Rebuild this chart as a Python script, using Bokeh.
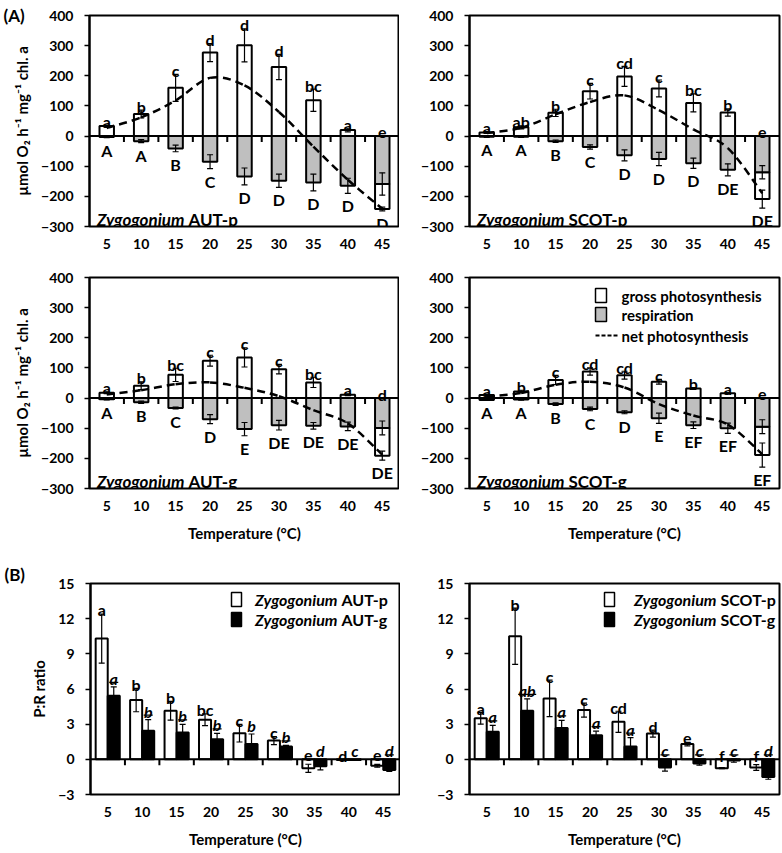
from bokeh.plotting import figure
from bokeh.models import (Range1d, FixedTicker, Span, Whisker, TeeHead, ColumnDataSource,
                          Label, BoxAnnotation, Arrow)
from bokeh.layouts import column, row
from bokeh.core.properties import value
from bokeh.embed import file_html
from bokeh.resources import INLINE

FONT = "Lato"
GRAY = "#bfbfbf"

# ---------------- data ----------------
temps = [5, 10, 15, 20, 25, 30, 35, 40, 45]

# (A) gross photosynthesis / respiration / net photosynthesis
autp_gross = [33, 73, 160, 277, 301, 229, 119, 20, -83]
autp_gross_err = [3, 13, 45, 30, 55, 42, 37, 6, 6]
autp_resp = [-3, -17, -41, -85, -134, -148, -154, -165, -159]
autp_resp_err = [2, 5, 11, 23, 28, 22, 28, 25, 37]
autp_net = [27, 62, 118, 193, 168, 80, -35, -145, -241]
autp_gross_let = ["a", "b", "c", "d", "d", "d", "bc", "a", "e"]
autp_resp_let = ["A", "A", "B", "C", "D", "D", "D", "D", "D"]

scotp_gross = [12, 29, 77, 149, 198, 158, 110, 78, -89]
scotp_gross_err = [3, 5, 12, 26, 33, 28, 30, 12, 30]
scotp_resp = [-2, -2, -17, -36, -64, -76, -90, -112, -120]
scotp_resp_err = [2, 2, 4, 7, 18, 22, 17, 20, 22]
scotp_net = [10, 27, 72, 113, 135, 86, 22, -40, -190]
scotp_gross_let = ["a", "ab", "b", "c", "cd", "c", "bc", "b", "e"]
scotp_resp_let = ["A", "A", "B", "C", "D", "D", "D", "DE", "DE"]

autg_gross = [18, 41, 77, 124, 135, 96, 52, 11, -92]
autg_gross_err = [3, 13, 22, 18, 32, 16, 17, 3, 15]
autg_resp = [-4, -14, -33, -70, -103, -90, -92, -94, -99]
autg_resp_err = [2, 4, 3, 15, 22, 16, 11, 14, 23]
autg_net = [12, 26, 46, 52, 34, 6, -40, -84, -188]
autg_gross_let = ["a", "b", "bc", "c", "c", "c", "bc", "a", "d"]
autg_resp_let = ["A", "B", "C", "D", "E", "DE", "DE", "DE", "DE"]

scotg_gross = [10, 22, 60, 88, 76, 54, 32, 16, -94]
scotg_gross_err = [3, 4, 15, 12, 13, 8, 3, 2, 40]
scotg_resp = [-6, -5, -20, -36, -47, -67, -90, -100, -95]
scotg_resp_err = [2, 2, 4, 6, 5, 17, 11, 17, 23]
scotg_net = [5, 17, 44, 54, 35, -20, -58, -88, -186]
scotg_gross_let = ["a", "b", "c", "cd", "cd", "c", "b", "a", "e"]
scotg_resp_let = ["A", "A", "B", "C", "D", "E", "EF", "EF", "EF"]

# (B) P:R ratio
pr_autp = [10.3, 5.06, 4.14, 3.37, 2.23, 1.6, -0.77, -0.05, -0.55]
pr_autp_err = [2.1, 1.0, 0.8, 0.5, 0.75, 0.35, 0.35, 0.03, 0.12]
pr_autg = [5.43, 2.43, 2.29, 1.71, 1.31, 1.09, -0.6, -0.05, -0.9]
pr_autg_err = [0.75, 0.95, 0.7, 0.5, 0.85, 0.1, 0.3, 0.03, 0.12]
pr_autp_let = ["a", "b", "b", "bc", "c", "c", "e", "d", "e"]
pr_autg_let = ["a", "b", "b", "b", "b", "b", "d", "c", "d"]
pr_autg_ul = [1, 1, 1, 1, 0, 1, 0, 0, 1]

pr_scotp = [3.5, 10.5, 5.2, 4.2, 3.2, 2.2, 1.3, -0.75, -0.7]
pr_scotp_err = [0.5, 2.4, 1.55, 0.6, 0.9, 0.3, 0.15, 0.05, 0.25]
pr_scotg = [2.35, 4.15, 2.67, 2.05, 1.1, -0.7, -0.35, -0.1, -1.5]
pr_scotg_err = [0.55, 1.0, 0.65, 0.35, 0.75, 0.3, 0.15, 0.15, 0.2]
pr_scotp_let = ["a", "b", "c", "c", "cd", "d", "e", "f", "f"]
pr_scotg_let = ["a", "ab", "a", "a", "a", "c", "c", "c", "d"]
pr_scotg_ul = [1, 1, 1, 1, 1, 1, 1, 1, 1]

yticks_a = [-300, -200, -100, 0, 100, 200, 300, 400]
yticks_b = [-3, 0, 3, 6, 9, 12, 15]
YLAB_A = "µmol O₂ h⁻¹ mg⁻¹ chl. a"
YLAB_B = "P:R ratio"
XLAB = "Temperature (°C)"

FW, FH = 310, 211
LET_SIZE = "16px"


def base_fig(ymin, ymax, yticks, bl, br, bt, bb, ylabel=None, xlabel=None):
    p = figure(frame_width=FW, frame_height=FH,
               x_range=Range1d(2.5, 47.5), y_range=Range1d(ymin, ymax),
               output_backend="svg", toolbar_location=None,
               min_border_left=bl, min_border_right=br,
               min_border_top=bt, min_border_bottom=bb,
               background_fill_color="white", border_fill_color="white")
    p.xgrid.visible = False
    p.ygrid.visible = False
    p.outline_line_color = "black"
    p.outline_line_width = 2
    p.outline_line_alpha = 1

    ya = p.yaxis[0]
    ya.ticker = FixedTicker(ticks=yticks)
    ya.axis_line_width = 2
    ya.axis_line_color = "black"
    ya.major_tick_out = 5
    ya.major_tick_in = 0
    ya.major_tick_line_width = 1.5
    ya.minor_tick_line_color = None
    ya.major_label_standoff = 11
    ya.major_label_text_font = FONT
    ya.major_label_text_font_style = "bold"
    ya.major_label_text_font_size = "14px"
    ya.major_label_text_color = "black"
    if ylabel:
        ya.axis_label = ylabel
        ya.axis_label_text_font = FONT
        ya.axis_label_text_font_style = "bold"
        ya.axis_label_text_font_size = "15px"
        ya.axis_label_text_color = "black"
        ya.axis_label_standoff = 7

    xa = p.xaxis[0]
    xa.ticker = FixedTicker(ticks=temps)
    xa.axis_line_color = None
    xa.major_tick_line_color = None
    xa.major_tick_out = 0
    xa.major_tick_in = 0
    xa.minor_tick_line_color = None
    xa.major_label_standoff = 12
    xa.major_label_text_font = FONT
    xa.major_label_text_font_style = "bold"
    xa.major_label_text_font_size = "14px"
    xa.major_label_text_color = "black"
    if xlabel:
        xa.axis_label = xlabel
        xa.axis_label_text_font = FONT
        xa.axis_label_text_font_style = "bold"
        xa.axis_label_text_font_size = "15px"
        xa.axis_label_text_color = "black"
        xa.axis_label_standoff = 10

    upp = (ymax - ymin) / FH
    upx = (47.5 - 2.5) / FW
    return p, upp, upx


def zero_line(p, upp):
    p.add_layout(Span(location=0, dimension="width", line_color="black", line_width=2))
    bx = [(a + b) / 2 for a, b in zip(temps[:-1], temps[1:])]
    p.segment(x0=bx, y0=[0] * len(bx), x1=bx, y1=[-6 * upp] * len(bx),
              line_color="black", line_width=2)


def whisk(p, xs, lo, up):
    src = ColumnDataSource(dict(x=xs, lo=lo, up=up))
    w = Whisker(source=src, base="x", lower="lo", upper="up",
                line_color="black", line_width=1.2,
                upper_head=TeeHead(size=6, line_width=1.2, line_color="black"),
                lower_head=TeeHead(size=6, line_width=1.2, line_color="black"),
                level="annotation")
    p.add_layout(w)


def smooth(xs, ys):
    n = len(xs)
    d = dict(x0=[], y0=[], x1=[], y1=[], cx0=[], cy0=[], cx1=[], cy1=[])
    for i in range(n - 1):
        im, ip = max(i - 1, 0), min(i + 2, n - 1)
        d["x0"].append(xs[i]); d["y0"].append(ys[i])
        d["x1"].append(xs[i + 1]); d["y1"].append(ys[i + 1])
        d["cx0"].append(xs[i] + (xs[i + 1] - xs[im]) / 6)
        d["cy0"].append(ys[i] + (ys[i + 1] - ys[im]) / 6)
        d["cx1"].append(xs[i + 1] - (xs[ip] - xs[i]) / 6)
        d["cy1"].append(ys[i + 1] - (ys[ip] - ys[i]) / 6)
    return d


def label(p, x, y, text, style="bold", size="17px", baseline="alphabetic", align="left"):
    p.add_layout(Label(x=x, y=y, x_units="screen", y_units="screen", text=text,
                       text_font=FONT, text_font_style=style, text_font_size=size,
                       text_color="black", text_baseline=baseline, text_align=align))


def species_text(p, xr, y, name, size, baseline):
    # italic genus ends at xr, strain code starts 4 px after it
    label(p, xr, y, "Zygogonium", style="bold italic", size=size, baseline=baseline, align="right")
    label(p, xr + 4, y, name, size=size, baseline=baseline)


def letters(p, xs, ys, txt, style, baseline):
    p.text(x=xs, y=ys, text=txt, text_font=value(FONT), text_font_style=style,
           text_font_size=LET_SIZE, text_align="center", text_baseline=baseline,
           text_color="black")


def photo_panel(p, upp, gross, gerr, resp, rerr, net, glet, rlet, name):
    bw = 2.1
    gbot, gtop, gbase = [], [], []
    for g, r in zip(gross, resp):
        if g >= 0:
            gbot.append(0); gtop.append(g); gbase.append(g)
        else:
            gbot.append(r + g); gtop.append(r); gbase.append(r + g)
    p.vbar(x=temps, width=bw, bottom=gbot, top=gtop, fill_color="white",
           line_color="black", line_width=2)
    p.vbar(x=temps, width=bw, bottom=resp, top=[0] * len(resp), fill_color=GRAY,
           line_color="black", line_width=2)
    zero_line(p, upp)
    p.bezier(source=ColumnDataSource(smooth(temps, net)), x0="x0", y0="y0", x1="x1", y1="y1",
             cx0="cx0", cy0="cy0", cx1="cx1", cy1="cy1",
             line_color="black", line_width=2.5, line_dash="8 5")
    whisk(p, temps, [b - e for b, e in zip(gbase, gerr)], [b + e for b, e in zip(gbase, gerr)])
    whisk(p, temps, [r - e for r, e in zip(resp, rerr)], [r + e for r, e in zip(resp, rerr)])
    up_y = [(g + e if g >= 0 else 0) + 4 * upp for g, e in zip(gross, gerr)]
    lo_y = []
    for g, ge, r, re_ in zip(gross, gerr, resp, rerr):
        v = r - re_
        if g < 0:
            v = min(v, r + g - ge)
        lo_y.append(v - 3 * upp)
    letters(p, temps, up_y, glet, "bold", "alphabetic")
    letters(p, temps, lo_y, rlet, "bold", "top")
    species_text(p, 95, 7, name, "17px", "alphabetic")


def pr_panel(p, upp, upx, vp, ep, vg, eg, lp, lg, ul, name_p, name_g, lx):
    bw = 1.75
    xp = [t - bw / 2 for t in temps]
    xg = [t + bw / 2 for t in temps]
    p.vbar(x=xp, width=bw, bottom=0, top=vp, fill_color="white", line_color="black", line_width=2)
    p.vbar(x=xg, width=bw, bottom=0, top=vg, fill_color="black", line_color="black", line_width=2)
    zero_line(p, upp)
    whisk(p, xp, [v - e for v, e in zip(vp, ep)], [v + e for v, e in zip(vp, ep)])
    whisk(p, xg, [v - e for v, e in zip(vg, eg)], [v + e for v, e in zip(vg, eg)])
    yp = [v + e if v >= 0 else 0 for v, e in zip(vp, ep)]
    yg = [v + e if v >= 0 else 0 for v, e in zip(vg, eg)]
    letters(p, xp, [y + 4 * upp for y in yp], lp, "bold", "alphabetic")
    letters(p, xg, [y + 8.5 * upp for y in yg], lg, "bold italic", "alphabetic")
    ux0, ux1, uy = [], [], []
    for x, y, t, u in zip(xg, yg, lg, ul):
        if u:
            hw = len(t) * 4.5 * upx
            ux0.append(x - hw); ux1.append(x + hw); uy.append(y + 4.5 * upp)
    p.segment(x0=ux0, y0=uy, x1=ux1, y1=uy, line_color="black", line_width=1.2)
    # legend
    rows_y = [FH - 16, FH - 36]
    for yy, fc, nm in zip(rows_y, ["white", "black"], [name_p, name_g]):
        p.add_layout(BoxAnnotation(left=lx, right=lx + 10, bottom=yy - 7, top=yy + 7,
                                   left_units="screen", right_units="screen",
                                   bottom_units="screen", top_units="screen",
                                   fill_color=fc, fill_alpha=1, line_color="black",
                                   line_alpha=1, line_width=1.5))
        species_text(p, 247, yy, nm, "16px", "middle")


def panel_tag(p, text, standoff):
    p.title.text = text
    p.title.align = "left"
    p.title.offset = -86
    p.title.standoff = standoff
    p.title.text_font = FONT
    p.title.text_font_style = "bold"
    p.title.text_font_size = "17px"
    p.title.text_color = "black"


p1, u1, x1 = base_fig(-300, 400, yticks_a, 89, 0, 15, 41, ylabel=YLAB_A)
p2, u2, x2 = base_fig(-300, 400, yticks_a, 70, 3, 15, 41)
p3, u3, x3 = base_fig(-300, 400, yticks_a, 89, 0, 10, 74, ylabel=YLAB_A, xlabel=XLAB)
p4, u4, x4 = base_fig(-300, 400, yticks_a, 70, 3, 10, 74, xlabel=XLAB)
p5, u5, x5 = base_fig(-3, 15, yticks_b, 90, 0, 20, 58, ylabel=YLAB_B, xlabel=XLAB)
p6, u6, x6 = base_fig(-3, 15, yticks_b, 69, 3, 20, 58, xlabel=XLAB)

photo_panel(p1, u1, autp_gross, autp_gross_err, autp_resp, autp_resp_err, autp_net,
            autp_gross_let, autp_resp_let, "AUT-p")
photo_panel(p2, u2, scotp_gross, scotp_gross_err, scotp_resp, scotp_resp_err, scotp_net,
            scotp_gross_let, scotp_resp_let, "SCOT-p")
photo_panel(p3, u3, autg_gross, autg_gross_err, autg_resp, autg_resp_err, autg_net,
            autg_gross_let, autg_resp_let, "AUT-g")
photo_panel(p4, u4, scotg_gross, scotg_gross_err, scotg_resp, scotg_resp_err, scotg_net,
            scotg_gross_let, scotg_resp_let, "SCOT-g")

# legend (A)
leg_rows = [FH - 18, FH - 37, FH - 58]
for yy, fc in zip(leg_rows[:2], ["white", GRAY]):
    p4.add_layout(BoxAnnotation(left=126, right=137, bottom=yy - 7, top=yy + 7,
                                left_units="screen", right_units="screen", bottom_units="screen",
                                top_units="screen", fill_color=fc, fill_alpha=1,
                                line_color="black", line_alpha=1, line_width=1.5))
p4.add_layout(Arrow(end=None, x_start=126, y_start=leg_rows[2], x_end=148, y_end=leg_rows[2],
                    start_units="screen", end_units="screen", line_color="black",
                    line_width=2, line_dash="4 2"))
for yy, txt in zip(leg_rows, ["gross photosynthesis", "respiration", "net photosynthesis"]):
    label(p4, 152, yy, txt, size="15px", baseline="middle")

pr_panel(p5, u5, x5, pr_autp, pr_autp_err, pr_autg, pr_autg_err, pr_autp_let, pr_autg_let,
         pr_autg_ul, "AUT-p", "AUT-g", 141)
pr_panel(p6, u6, x6, pr_scotp, pr_scotp_err, pr_scotg, pr_scotg_err, pr_scotp_let, pr_scotg_let,
         pr_scotg_ul, "SCOT-p", "SCOT-g", 135)

panel_tag(p1, "(A)", -20)
panel_tag(p5, "(B)", -2)

layout = column(row(p1, p2), row(p3, p4), row(p5, p6))
open("out.html", "w").write(file_html(layout, INLINE))
